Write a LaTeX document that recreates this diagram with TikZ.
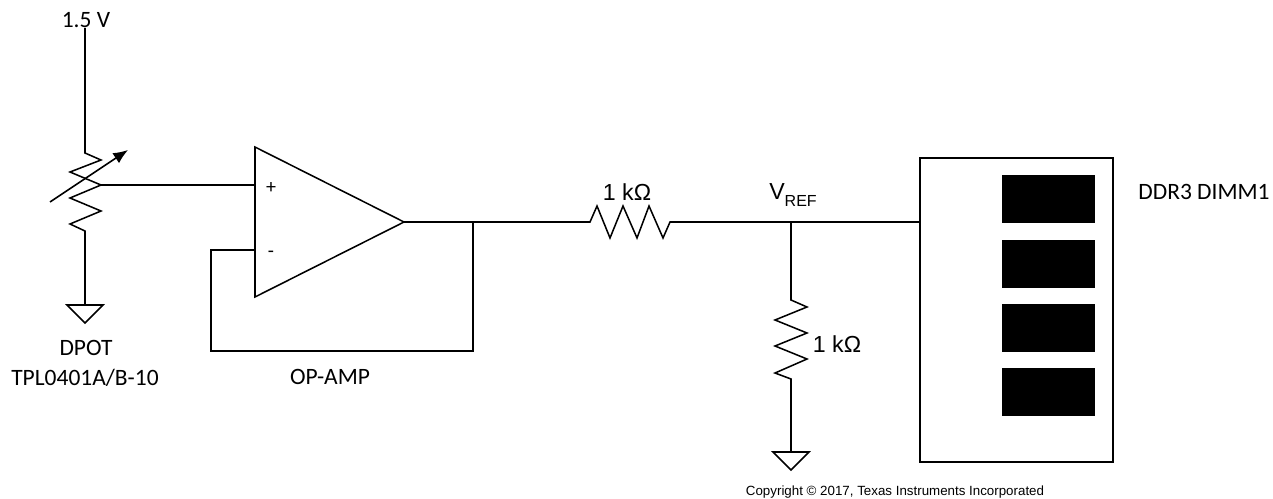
\documentclass[tikz,border=0pt]{standalone}
\usepackage{fontspec}
\setmainfont{Carlito}
\newfontfamily\arialfont{Liberation Sans}
\usetikzlibrary{positioning,arrows.meta}
\begin{document}
\begin{tikzpicture}[x=0.75pt,y=-0.75pt]
      \tikzset{
	  wire/.style={draw=black, line width=1.15pt},
	  txt/.style={inner sep=0em, font=\fontsize{17.6pt}{20pt}\selectfont},
	  atxt/.style={inner sep=0em, font=\arialfont\fontsize{17.4pt}{20pt}\selectfont},
	  small/.style={inner sep=0em, font=\arialfont\fontsize{10pt}{12pt}\selectfont},
	  sign/.style={inner sep=0em, font=\fontsize{15pt}{17pt}\selectfont},
	  chip/.style={fill=black, draw=none}
      }
      \useasboundingbox (0,0) rectangle (1273,499);

      %-----#1 name, #2 coordinate of the top point
      \def\gnd[#1,#2]{%
	\coordinate (#1) at #2;%
	\draw[wire, line join=miter] (#1) ++(-18,0) -- ++(36,0) -- ++(-18,18) -- cycle;}

      \coordinate (top) at (85,28);
      \coordinate (pot1) at (85,153);
      \coordinate (pot2) at (85,231);
      \coordinate (wiper) at (101,185);
      \coordinate (in1) at (255,185);
      \coordinate (in2) at (255,250);
      \coordinate (out) at (404,222);
      \coordinate (fb) at (473,222);
      \coordinate (r1a) at (590,222);
      \coordinate (r1b) at (670,222);
      \coordinate (vref) at (791,222);
      \coordinate (r2a) at (791,300);
      \coordinate (r2b) at (791,379);
      \coordinate (dimmin) at (920,222);
      \coordinate (arrowa) at (50,202);
      \coordinate (arrowb) at (128,150);

      \gnd[g1,(85,305)]
      \gnd[g2,(791,452)]

      % dpot
      \draw[wire] (top) -- (pot1) -- ++(16,7) -- ++(-31,12) -- ++(31,13) -- ++(-31,13) -- ++(31,13) -- ++(-31,13) -- (pot2) -- (g1);
      \draw[wire] (wiper) -- (in1);
      \draw[wire,-{Latex[length=11pt,width=9pt]}] (arrowa) -- (arrowb);

      % op-amp
      \draw[wire] (255,147) -- (out) -- (255,297) -- cycle;
      \draw[wire] (in2) -- (211,250) -- (211,351) -- (473,351) -- (fb);
      \node[sign] (plus) at (271,188) {+};
      \node[sign] (minus) at (271,254) {-};

      % resistors
      \draw[wire] (out) -- (r1a) -- (597,206) -- (610,238) -- (623,206) -- (637,238) -- (649,206) -- (663,238) -- (r1b) -- (dimmin);
      \draw[wire] (vref) -- (r2a) -- (807,307) -- (775,320) -- (807,333) -- (775,346) -- (807,359) -- (775,373) -- (r2b) -- (g2);

      % dimm
      \draw[wire] (920,158) rectangle (1113,462);
      \foreach \y in {175,240,304,368}
	\fill[chip] (1002,\y) rectangle (1095,\y+48);

      \node[txt] (vlabel) at (86,20) {1.5 V};
      \node[txt] (dpot) at (86,348) {DPOT};
      \node[txt] (tpl) at (85,378) {TPL0401A/B-10};
      \node[txt] (opamp) at (330,377) {OP-AMP};
      \node[atxt] (r1label) at (627,192) {1 kΩ};
      \node[atxt] (r2label) at (837,344) {1 kΩ};
      \node[atxt] (vreflabel) at (793,195) {V\raisebox{-0.5ex}{\fontsize{12pt}{14pt}\selectfont REF}};
      \node[txt] (dimm) at (1204,192) {DDR3 DIMM1};
      \node[small] (copy) at (895,492) {Copyright © 2017, Texas Instruments Incorporated};
    \end{tikzpicture}
\end{document}
